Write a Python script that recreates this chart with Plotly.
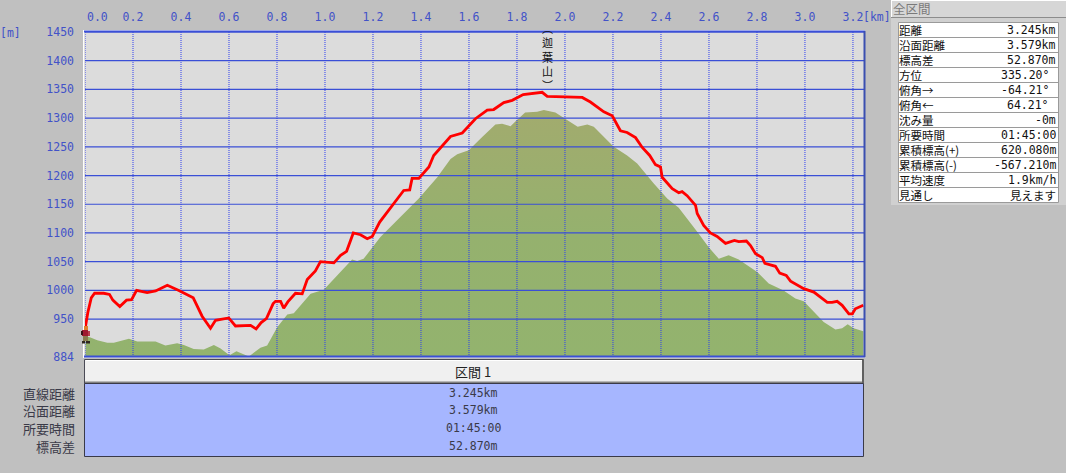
import plotly.graph_objects as go

W, H = 1066, 473

# --- chart data ---
route_km = [0.002,0.012,0.026,0.040,0.078,0.102,0.116,0.145,0.173,0.194,0.215,0.259,0.294,0.343,0.391,0.451,0.488,0.523,0.544,0.599,0.627,0.690,0.713,0.734,0.756,0.784,0.794,0.815,0.828,0.845,0.877,0.905,0.926,0.960,0.981,1.037,1.065,1.090,1.118,1.148,1.176,1.197,1.228,1.301,1.328,1.353,1.363,1.391,1.433,1.453,1.493,1.523,1.572,1.627,1.676,1.703,1.745,1.780,1.826,1.877,1.905,1.926,2.009,2.072,2.106,2.162,2.197,2.231,2.259,2.294,2.322,2.353,2.377,2.398,2.405,2.447,2.474,2.488,2.509,2.544,2.551,2.578,2.606,2.634,2.669,2.706,2.724,2.756,2.773,2.794,2.822,2.833,2.877,2.895,2.922,2.940,2.995,3.037,3.093,3.113,3.134,3.155,3.183,3.197,3.210,3.243]
route_m = [937,962,987,995,995,993,983,972,983,984,1000,996,999,1009,1000,987,955,934,948,952,938,939,933,944,951,977,981,981,969,980,995,994,1019,1034,1050,1048,1061,1068,1100,1097,1090,1094,1119,1158,1174,1175,1195,1195,1215,1235,1255,1268,1274,1299,1314,1315,1327,1331,1341,1343,1345,1338,1337,1336,1328,1311,1304,1278,1275,1266,1249,1235,1219,1215,1197,1177,1170,1172,1165,1148,1134,1113,1100,1094,1082,1087,1085,1086,1078,1064,1057,1047,1042,1030,1026,1016,1003,997,979,979,981,974,959,959,968,974]
terrain_km = [0.002,0.023,0.051,0.093,0.120,0.183,0.218,0.294,0.335,0.384,0.412,0.453,0.495,0.537,0.565,0.602,0.631,0.683,0.731,0.759,0.801,0.843,0.870,0.905,0.940,0.995,1.065,1.113,1.134,1.161,1.231,1.391,1.468,1.523,1.551,1.599,1.655,1.710,1.738,1.773,1.801,1.834,1.884,1.912,1.960,2.002,2.053,2.093,2.120,2.203,2.259,2.301,2.370,2.426,2.474,2.551,2.599,2.641,2.682,2.724,2.801,2.849,2.911,2.960,2.995,3.078,3.127,3.155,3.178,3.203,3.243]
terrain_m = [920,918,913,909,909,916,911,911,904,908,905,898,897,905,899,887,894,885,900,904,936,958,960,977,994,1001,1032,1054,1051,1055,1093,1160,1197,1229,1237,1244,1267,1289,1290,1286,1297,1310,1311,1314,1310,1299,1285,1289,1285,1250,1235,1221,1186,1160,1144,1102,1075,1055,1061,1054,1032,1012,1000,986,981,945,932,934,941,934,929]

km_ticks = [0.0,0.2,0.4,0.6,0.8,1.0,1.2,1.4,1.6,1.8,2.0,2.2,2.4,2.6,2.8,3.0,3.2]
m_ticks = [884,950,1000,1050,1100,1150,1200,1250,1300,1350,1400,1450]
grid_m = [950,1000,1050,1100,1150,1200,1250,1300,1350,1400,1450]

section_title = "区間 1"
section_labels = ["直線距離","沿面距離","所要時間","標高差"]
section_values = ["3.245km","3.579km","01:45:00","52.870m"]
panel_title = "全区間"
panel_labels = ["距離","沿面距離","標高差","方位","俯角→","俯角←","沈み量","所要時間","累積標高(+)","累積標高(-)","平均速度","見通し"]
panel_values = ["3.245km","3.579km","52.870m","335.20°","-64.21°","64.21°","-0m","01:45:00","620.080m","-567.210m","1.9km/h","見えます"]
peak_label = "︵<br>迦<br>葉<br>山<br>︶"

# --- pixel layout helpers (decoration only) ---
PL, PR, PT, PB = 85, 864, 32, 357
XMAX = 3.246
BG = "#c0c0c0"; BLUE = "#3a4fd6"; TICK = "#4252c8"; DARK = "#3a3a48"
JP = "Noto Sans CJK JP"; MONO = "DejaVu Sans Mono"

def px(x): return x / W
def py(y): return 1 - y / H

shapes, annos = [], []
def rect(x0, y0, x1, y1, fill=None, line=None, lw=1, layer="below"):
    shapes.append(dict(type="rect", xref="paper", yref="paper", x0=px(x0), x1=px(x1), y0=py(y1), y1=py(y0),
                       fillcolor=fill or "rgba(0,0,0,0)", line=dict(color=line or "rgba(0,0,0,0)", width=lw if line else 0), layer=layer))
def hline(x0, x1, y, color, lw=1, layer="below"):
    shapes.append(dict(type="line", xref="paper", yref="paper", x0=px(x0), x1=px(x1), y0=py(y), y1=py(y), line=dict(color=color, width=lw), layer=layer))
def vline(x, y0, y1, color, lw=1, layer="below"):
    shapes.append(dict(type="line", xref="paper", yref="paper", x0=px(x), x1=px(x), y0=py(y0), y1=py(y1), line=dict(color=color, width=lw), layer=layer))
def text(x, y, s, anchor="center", color="#222222", size=13, font=JP):
    annos.append(dict(xref="paper", yref="paper", x=px(x), y=py(y), text=s, showarrow=False, xanchor=anchor, yanchor="middle",
                      font=dict(family=font, size=size, color=color), borderpad=0, borderwidth=0))

fig = go.Figure()
fig.add_trace(go.Scatter(x=terrain_km, y=terrain_m, mode="lines", line=dict(width=0), fill="tozeroy",
                         fillgradient=dict(type="vertical", start=884, stop=1314,
                                           colorscale=[[0, "#93b36e"], [0.5, "#95b16e"], [1, "#a2ab6e"]]),
                         hoverinfo="skip", showlegend=False))
# grid lines over the terrain, under the route
hx, hy = [], []
for v in grid_m:
    hx += [0, XMAX, None]; hy += [v, v, None]
fig.add_trace(go.Scatter(x=hx, y=hy, mode="lines", line=dict(color=BLUE, width=1.2), hoverinfo="skip", showlegend=False))
vx, vy = [], []
for k in km_ticks:
    vx += [k, k, None]; vy += [884, 1450, None]
fig.add_trace(go.Scatter(x=vx, y=vy, mode="lines", line=dict(color="#2f3ff0", width=1, dash="1px,1px"), hoverinfo="skip", showlegend=False))
fig.add_trace(go.Scatter(x=route_km, y=route_m, mode="lines", line=dict(color="#ff0000", width=2.8), hoverinfo="skip", showlegend=False))

# plot frame
rect(PL - 2, PT - 2, PR + 1, PB + 1, fill="#ffffff")
rect(PL - 1, PT - 1, PR + 1, PB + 1, fill="#dcdcdc")
hline(PL - 1, PR + 1, PT - 0.5, BLUE, 2, "above")
hline(PL - 1, PR + 1, PB - 0.5, BLUE, 2, "above")
vline(PR + 0.5, PB, PT - 1, "#3a4fb0", 2, "above")

# section table
rect(84.5, 359.5, 863.5, 383.5, fill="#f0f0f0", line="#4a4a55", lw=1)
hline(86, 862, 360.5, "#ffffff", 1)
hline(85, 863, 382.5, "#808080", 2)
vline(863, 360, 383, "#606060", 2)
rect(84.5, 383.5, 863.5, 456.5, fill="#a6b6ff", line=DARK, lw=1)
text(473, 371, section_title)
for lab, val, y in zip(section_labels, section_values, [393, 410, 428, 446]):
    text(75, y, lab, anchor="right", color=DARK)
    text(473, y, val, color=DARK, font=MONO, size=11.5)

# right panel
rect(891, 0, 1066, 18, fill="#d6d6d6")
hline(891, 1066, 0.5, "#ffffff")
vline(891.5, 0, 18, "#ffffff")
hline(891, 1066, 17.5, "#8c8c8c")
rect(891, 18, 1066, 205, fill="#d0d0d0")
rect(898.5, 22.5, 1058.5, 202.5, fill="#ffffff", line="#9a9a9a")
for i in range(1, 12):
    hline(898.5, 1058.5, 22.5 + 15 * i, "#9a9a9a")
text(893, 9, panel_title, anchor="left", color="#7a7a7a", size=12.5)
right_edge = [1056, 1056, 1056, 1049, 1049, 1049, 1056, 1056, 1056, 1056, 1056, 1056]
for i, (lab, val) in enumerate(zip(panel_labels, panel_values)):
    y = 30 + 15 * i
    text(899, y, lab, anchor="left", color="#111111", size=11.5)
    text(right_edge[i], y, val, anchor="right", color="#111111", font=MONO if i != 11 else JP, size=11.5)

# axis annotations
text(10, 33, "[m]", color=TICK, font=MONO, size=11.5)
text(877, 17, "[km]", color=TICK, font=MONO, size=11.5)
text(97, 17, "0.0", color=TICK, font=MONO, size=11.5)

# peak name (vertical)
text(547, 56, peak_label, color="#111111", size=11)

# hiker sprite
for x0, y0, x1, y1, c in [
    (84, 326, 88, 330, "#e0802c"), (82, 330, 88, 336, "#a01830"), (81, 331, 83, 335, "#3a1018"),
    (88, 331, 90, 336, "#b84050"), (83, 336, 88, 341, "#8a7a50"), (82, 341, 85, 343.5, "#302820"), (86, 341, 90, 343.5, "#302820")]:
    rect(x0, y0, x1, y1, fill=c, layer="above")

fig.update_layout(
    width=W, height=H, margin=dict(l=0, r=0, t=0, b=0, autoexpand=False), paper_bgcolor=BG, plot_bgcolor="rgba(0,0,0,0)",
    showlegend=False, shapes=shapes, annotations=annos,
    xaxis=dict(domain=[px(PL), px(PR)], range=[0, XMAX], side="top", tickvals=km_ticks,
               ticktext=[""] + [f"{k:.1f}" for k in km_ticks[1:]], showgrid=False, zeroline=False, showline=False,
               ticks="", tickfont=dict(family=MONO, size=11.5, color=TICK), ticklabelstandoff=8),
    yaxis=dict(domain=[py(PB), py(PT)], range=[884, 1450], tickvals=m_ticks, ticktext=[str(v) for v in m_ticks],
               showgrid=False, zeroline=False, showline=False, ticks="",
               tickfont=dict(family=MONO, size=11.5, color=TICK), ticklabelstandoff=10),
)
fig.write_html("out.html", config=dict(displayModeBar=False), post_script="document.body.style.margin='0';document.body.style.overflow='hidden';")
